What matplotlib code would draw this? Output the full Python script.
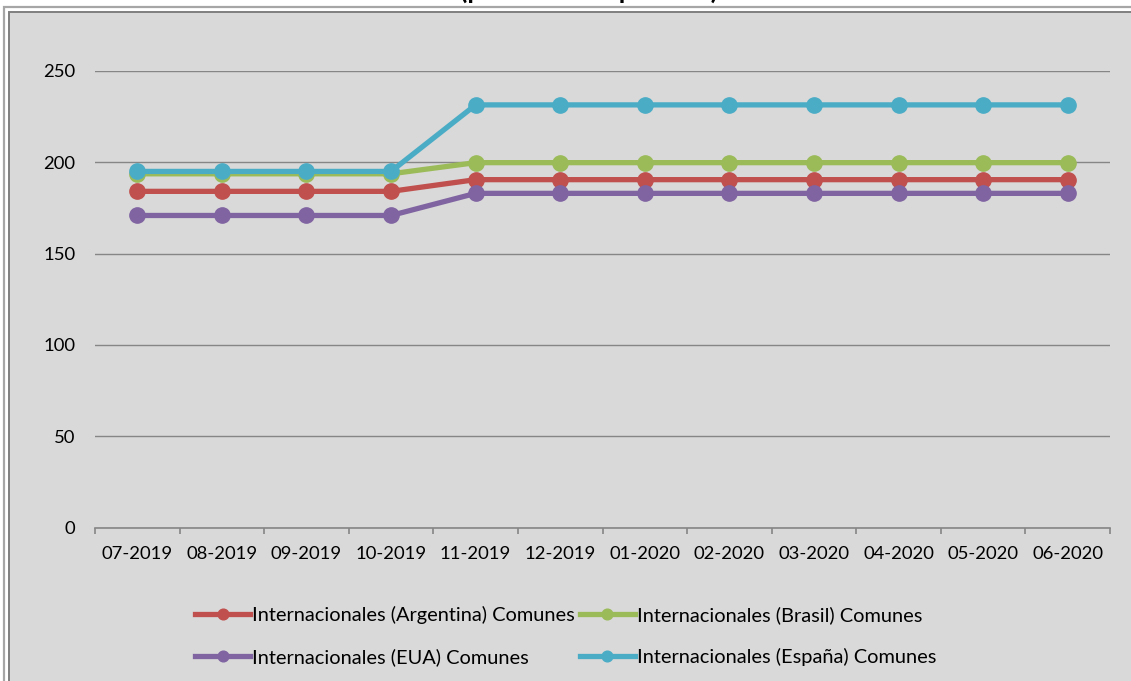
import numpy as np
import matplotlib.pyplot as plt
from matplotlib.patches import Rectangle

plt.rcParams['font.family'] = ['Lato', 'DejaVu Sans']

# données
meses = ['07-2019', '08-2019', '09-2019', '10-2019', '11-2019', '12-2019',
         '01-2020', '02-2020', '03-2020', '04-2020', '05-2020', '06-2020']
argentina = [184, 184, 184, 184, 190.4, 190.4, 190.4, 190.4, 190.4, 190.4, 190.4, 190.4]
brasil = [193.6, 193.6, 193.6, 193.6, 199.7, 199.7, 199.7, 199.7, 199.7, 199.7, 199.7, 199.7]
eua = [170.8, 170.8, 170.8, 170.8, 182.9, 182.9, 182.9, 182.9, 182.9, 182.9, 182.9, 182.9]
espana = [194.9, 194.9, 194.9, 194.9, 231.3, 231.3, 231.3, 231.3, 231.3, 231.3, 231.3, 231.3]

series = [
    ('Internacionales (Argentina) Comunes', argentina, '#C0504D'),
    ('Internacionales (Brasil) Comunes', brasil, '#9BBB59'),
    ('Internacionales (EUA) Comunes', eua, '#8064A2'),
    ('Internacionales (España) Comunes', espana, '#4BACC6'),
]

W, H = 1131, 681
fig = plt.figure(figsize=(W / 100, H / 100), dpi=100)
fig.patch.set_facecolor('white')


def px(x, y):
    # pixels (origine en haut à gauche) -> fraction de figure
    return x / W, 1 - y / H


# cadre double à gauche et en haut
x0, y0 = px(4, 7)
fig.add_artist(Rectangle((x0, -0.1), 1.2, y0 + 0.1, transform=fig.transFigure,
                         facecolor='white', edgecolor='#A6A6A6', lw=1.6, zorder=0))
x1, y1 = px(8.5, 11.5)
fig.add_artist(Rectangle((x1, -0.1), 1.2, y1 + 0.1, transform=fig.transFigure,
                         facecolor='#D9D9D9', edgecolor='#7F7F7F', lw=1.4, zorder=0))

# titre coupé en haut de l'image (seuls les jambages sont visibles)
tx, ty = px(460, -1.5)
fig.text(tx, ty, '(pesos con impuestos)', fontsize=19, fontweight='bold',
         ha='left', va='baseline')

left, top = px(95, 70.7)
right, bottom = px(1110, 527.7)
ax = fig.add_axes([left, bottom, right - left, top - bottom])
ax.set_facecolor('none')

x = np.arange(len(meses))
handles = {}
for nom, vals, col in series:
    ln, = ax.plot(x, vals, color=col, lw=3.8, marker='o', markersize=11,
                  label=nom, clip_on=False, zorder=3)
    handles[nom] = ln

ax.set_xlim(-0.5, len(meses) - 0.5)
ax.set_ylim(0, 250)
ax.set_yticks([0, 50, 100, 150, 200, 250])
ax.grid(axis='y', color='#868686', lw=1.0)
ax.set_axisbelow(True)

for s in ['left', 'right', 'top']:
    ax.spines[s].set_visible(False)
ax.spines['bottom'].set_color('#868686')
ax.spines['bottom'].set_linewidth(1.2)

ax.set_xticks(x)
ax.set_xticklabels(meses)
ax.set_xticks(np.arange(-0.5, len(meses)), minor=True)
ax.tick_params(axis='x', which='major', length=0, pad=13, labelsize=13.3)
ax.tick_params(axis='x', which='minor', length=4.2, width=1.2, color='#868686',
               direction='out')
ax.tick_params(axis='y', length=0, pad=14, labelsize=13.3)

# légende sur deux lignes
ordre = [series[0][0], series[2][0], series[1][0], series[3][0]]
lx, ly = px(195, 606)
fig.legend([handles[n] for n in ordre], ordre, loc='upper left',
           bbox_to_anchor=(lx, ly), ncol=2, frameon=False, fontsize=14.4,
           handlelength=2.75, handletextpad=0.1, columnspacing=0.25,
           labelspacing=1.2, borderpad=0, borderaxespad=0, markerscale=0.7)

fig.savefig('out.png', dpi=100)
